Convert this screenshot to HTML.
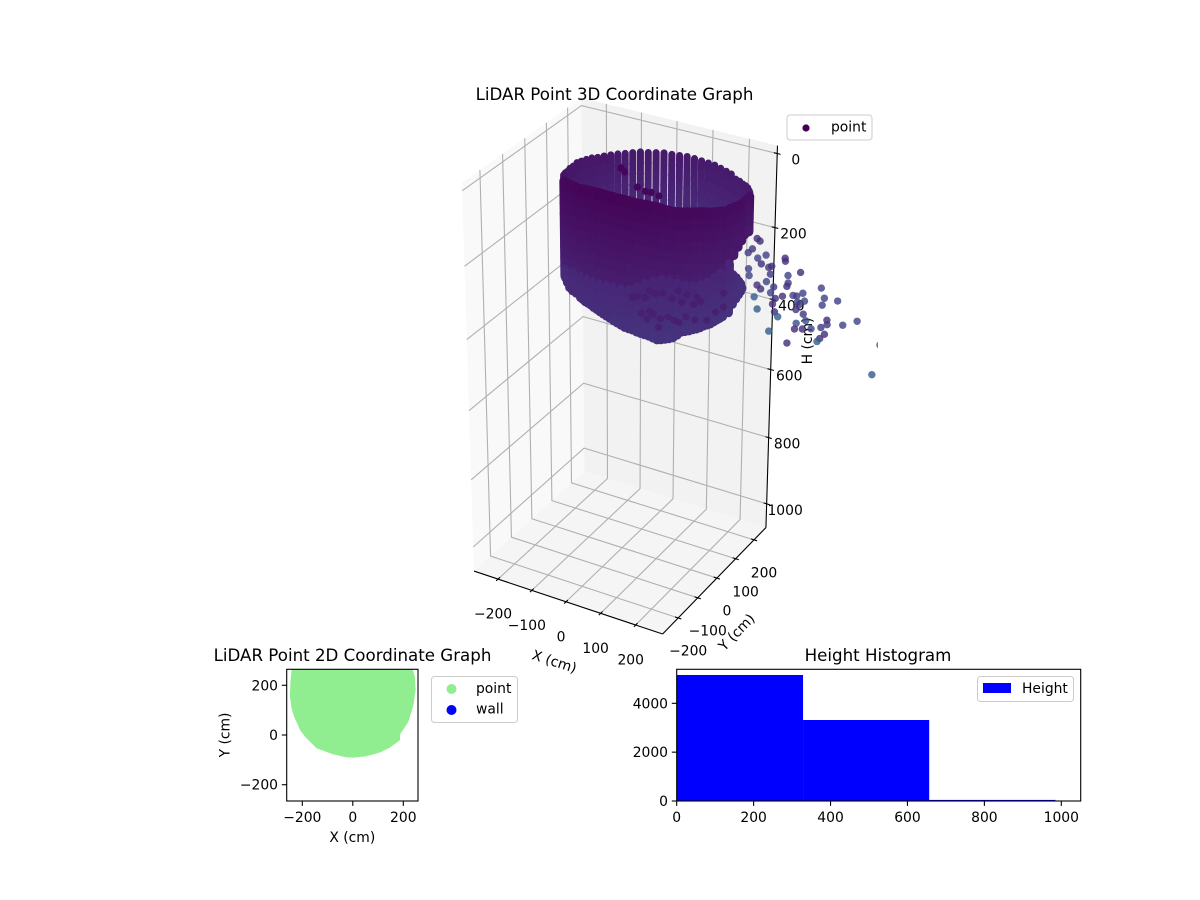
<!DOCTYPE html>
<html lang="en">
<head>
<meta charset="utf-8">
<title>LiDAR Point Graphs</title>
<style>
html,body{margin:0;padding:0;background:#fff;}
svg{display:block;font-family:"DejaVu Sans","Liberation Sans",sans-serif;}
</style>
</head>
<body>
<svg id="figure" xmlns="http://www.w3.org/2000/svg" width="1200" height="900" viewBox="0 0 1200 900">
  <defs>
    <clipPath id="clip3d"><rect x="322" y="90" width="556" height="560"/></clipPath>
    <clipPath id="clip2d"><rect x="286.7" y="669.3" width="131.3" height="131.7"/></clipPath>
  </defs>
  <g id="panes3d"></g>
  <g id="grid3d"></g>
  <g id="axes3d"></g>
  <g id="cloud3d" clip-path="url(#clip3d)"></g>
  <text x="614.5" y="100" font-size="16.67" text-anchor="middle">LiDAR Point 3D Coordinate Graph</text>
  <g>
    <rect x="787" y="115" width="85" height="25" rx="3" fill="#fff" fill-opacity=".8" stroke="#ccc" stroke-width="1"/>
    <circle cx="806" cy="128" r="3.6" fill="#440154"/>
    <text x="831" y="131.5" font-size="13.89">point</text>
  </g>

  <g id="plot2d"></g>
  <text x="352.5" y="661" font-size="16.67" text-anchor="middle">LiDAR Point 2D Coordinate Graph</text>
  <text x="352.3" y="842" font-size="13.89" text-anchor="middle">X (cm)</text>
  <text transform="translate(229.5,735) rotate(-90)" font-size="13.89" text-anchor="middle">Y (cm)</text>
  <g>
    <rect x="431.5" y="676.5" width="86" height="46" rx="3" fill="#fff" fill-opacity=".8" stroke="#ccc" stroke-width="1"/>
    <circle cx="451.5" cy="689" r="5" fill="#90ee90"/>
    <circle cx="451.5" cy="710" r="5" fill="#0000ff"/>
    <text x="476" y="693" font-size="13.89">point</text>
    <text x="476" y="713.5" font-size="13.89">wall</text>
  </g>

  <g id="hist"></g>
  <text x="878" y="661" font-size="16.67" text-anchor="middle">Height Histogram</text>
  <g>
    <rect x="977.5" y="676.5" width="96" height="25" rx="3" fill="#fff" fill-opacity=".8" stroke="#ccc" stroke-width="1"/>
    <rect x="983" y="683" width="28" height="10" fill="#0000ff"/>
    <text x="1022" y="693" font-size="13.89">Height</text>
  </g>
</svg>
<script>
/* ---------- 3D axis data ---------- */
const xTicks3d = [-200, -100, 0, 100, 200];
const yTicks3d = [-200, -100, 0, 100, 200];
const hTicks3d = [0, 200, 400, 600, 800, 1000];

/* Wall scan columns: azimuth (deg), radius (cm), top H, colour-break H, bottom H */
const columnAngle = [30,35,40,45,50,55,60,65,70,75,80,85,90,95,100,105,110,115,120,125,130,135,140,145,150,155,160,165,170,175,180,185,190,195,200,205,210,
  215,220,225,230,235,240,245,250,255,260,265,270,275,280,285,290,295,300,305,310,315,320,325,330,335,340,345,350,355,0,5,10,15,20,25,
  355,0,5,10,15,20,
  247.5,252.5,257.5,262.5,267.5,272.5,277.5,282.5,287.5,292.5,297.5,302.5,307.5,312.5,317.5,322.5,327.5,332.5,337.5,342.5];
const columnRadius = [227,227,227,227,227,227,227,227,227,227,227,227,227,227,227,227,227,227,227,227,227,227,227,227,227,227,227,227,227,227,227,227,227,227,227,227,227,
  227,227,227,227,227,227,227,227,227,227,227,227,227,227,227,227,227,227,227,227,227,227,227,227,227,227,227,227,227,227,227,227,227,227,227,
  215,215,215,215,215,215,
  227,227,227,227,227,227,227,227,227,227,227,227,227,227,227,227,227,227,227,227];
const columnTop = [131,136,138,142,147,148,151,145,145,144,142,142,141,139,137,137,136,133,133,132,129,129,128,126,124,122,120,115,112,109,105,106,103,102,96,91,83,
  89,81,74,67,62,57,54,48,44,41,40,40,41,42,45,47,50,54,62,68,72,75,78,83,89,94,99,100,103,107,111,114,118,125,132,
  264,301,318,337,354,376,
  51,46,42,40,40,40,41,43,46,48,52,58,65,70,73,76,80,86,91,96];
const columnBreak = [236,246,256,266,276,286,295,300,300,300,300,300,300,300,300,300,300,300,300,300,300,300,300,320,320,320,320,320,320,320,320,300,300,300,300,300,300,
  321,317,307,300,296,289,286,288,286,288,285,286,285,284,279,266,256,248,250,258,266,273,277,277,275,265,261,250,236,222,214,207,208,219,229,
  264,301,318,337,354,376,
  287,287,287,286,285,285,284,282,272,261,252,249,254,262,270,275,277,276,270,263];
const columnBottom = [236,246,256,266,276,286,295,300,300,300,300,300,300,300,300,300,300,300,300,300,300,300,300,320,320,320,320,320,320,320,320,340,350,355,355,350,348,
  351,346,348,352,351,348,351,354,355,360,366,372,380,388,392,399,405,415,414,411,398,398,397,394,394,390,388,382,236,222,214,207,208,219,229,
  398,383,377,375,376,377,
  352,354,358,363,369,376,384,390,396,402,410,415,413,405,398,397,396,394,392,389];
const backColumnCount = 37;
const wallCenterY = 168;

/* Returns seen through the open top of the wall */
const innerX = [-120,-109,-73,-50,-34,-12];
const innerY = [200,200,200,200,200,200];
const innerH = [107,115,148,154,153,157];

/* Returns scattered over the lower part of the wall */
const patchX = [76,93,112,64,43,138,156,179,165,198,216,207,28,54,77,87,70,107,128,145,158,177,202,235,258,279,279,102];
const patchY = [0,0,0,0,0,0,0,0,0,0,0,0,0,0,0,0,0,0,0,0,0,0,0,0,0,0,0,0];
const patchH = [303,306,299,325,327,308,282,287,311,308,295,285,335,372,361,365,383,372,361,366,368,347,349,341,312,293,255,397];

/* Outlying returns past the wall */
const outlierX = [313,321,301,290,338,316,326,292,346,354,294,351,389,390,431,398,341,316,326,361,399,396,487,439,413,423,353,385,366,496,444,425,491,531,359,429,422,365,318,309,374,442,449,424,505,506,584,547,464,490,420,441,351,500,488,481,401,646,629];
const outlierY = [100,100,100,100,100,100,100,100,100,100,100,100,100,100,100,100,100,100,100,100,100,100,100,100,100,100,100,100,100,100,100,100,100,100,100,100,100,100,100,100,100,100,100,100,100,100,100,100,100,100,100,100,100,100,100,100,100,100,100];
const outlierH = [145,150,176,189,183,197,210,232,214,209,250,231,178,186,205,222,254,270,278,263,242,252,232,259,272,271,281,282,293,257,279,287,277,255,310,294,308,330,335,304,341,315,331,345,314,326,295,316,349,338,362,356,387,354,369,379,406,342,428];
const outlierShade = [.13,.13,.16,.17,.2,.2,.14,.2,.17,.14,.2,.17,.14,.14,.14,.2,.21,.14,.14,.17,.17,.14,.2,.2,.2,.17,.21,.14,.14,.2,.21,.22,.2,.2,.14,.17,.17,.14,.3,.3,.3,.17,.25,.25,.14,.17,.21,.2,.21,.17,.14,.14,.3,.14,.14,.3,.14,.3,.3];

/* ---------- 2D chart data ---------- */
const xTicks2d = [-200, 0, 200];
const yTicks2d = [-200, 0, 200];
const outlineX = [-242,-247,-249,-243,-235,-209,-189,-143,-77,-24,2,51,104,147,187,187,220,240,249,246,237,180,-180];
const outlineY = [265,215,155,110,80,20,-7,-54,-78,-90,-91,-86,-72,-51,-20,2,53,120,181,234,265,420,420];

/* ---------- Histogram data ---------- */
const binEdges = [0, 328.5, 656.5, 984.7];
const binCounts = [5160, 3317, 45];
const histXTicks = [0, 200, 400, 600, 800, 1000];
const histYTicks = [0, 2000, 4000];

/* ---------- Palette anchors ---------- */
const viridisAnchors = [[68,1,84],[72,36,117],[65,68,135],[53,95,141],[42,120,142]];

const SVGNS = 'http://www.w3.org/2000/svg';
function make(tag, attrs, parent, text) {
  const el = document.createElementNS(SVGNS, tag);
  for (const k in attrs) el.setAttribute(k, attrs[k]);
  if (text !== undefined) el.textContent = text;
  parent.appendChild(el);
  return el;
}
function viridis(v) {
  const t = Math.max(0, Math.min(.3999, v)) * 10;
  const i = Math.floor(t), f = t - i;
  const a = viridisAnchors[i], b = viridisAnchors[i + 1];
  return 'rgb(' + [0,1,2].map(n => Math.round(a[n] + (b[n] - a[n]) * f)).join(',') + ')';
}
function fmt(v) { return String(v).replace('-', '\u2212'); }

/* ---------- 3D projection (perspective, elev 30, azim -60) ---------- */
const X_MIN = -272, X_MAX = 276, Y_MIN = -278, Y_MAX = 266, H_TOP = -21, H_BOTTOM = 1073;
function project(x, y, h) {
  const dx = ((x - X_MIN) / (X_MAX - X_MIN) - .5) * .778;
  const dy = ((y - Y_MIN) / (Y_MAX - Y_MIN) - .5) * .778;
  const dz = ((H_BOTTOM - h) / (H_BOTTOM - H_TOP) - .5) * 1.556;
  const vx = .866 * dx + .5 * dy;
  const vy = -.25 * dx + .433 * dy + .866 * dz;
  const d = 10 - (.433 * dx - .75 * dy + .5 * dz);
  return [621.7 + 2853.5 * vx / d, 364 - 2853.5 * vy / d];
}
function poly3d(points) {
  return points.map(p => project(p[0], p[1], p[2]).map(n => n.toFixed(2)).join(',')).join(' ');
}

/* panes */
const panes = document.getElementById('panes3d');
const paneLeft = make('polygon', {points: poly3d([[X_MIN,Y_MIN,H_BOTTOM],[X_MIN,Y_MAX,H_BOTTOM],[X_MIN,Y_MAX,H_TOP],[X_MIN,Y_MIN,H_TOP]]), fill:'#f9f9f9'}, panes);


const paneBack = make('polygon', {points: poly3d([[X_MIN,Y_MAX,H_BOTTOM],[X_MAX,Y_MAX,H_BOTTOM],[X_MAX,Y_MAX,H_TOP],[X_MIN,Y_MAX,H_TOP]]), fill:'#f2f2f2'}, panes);


const paneFloor = make('polygon', {points: poly3d([[X_MIN,Y_MIN,H_BOTTOM],[X_MAX,Y_MIN,H_BOTTOM],[X_MAX,Y_MAX,H_BOTTOM],[X_MIN,Y_MAX,H_BOTTOM]]), fill:'#f5f5f5'}, panes);



/* gridlines */
const grid = document.getElementById('grid3d');
const gridStyle = {fill:'none', stroke:'#b0b0b0', 'stroke-width':'1.1'};
xTicks3d.forEach(v => {
  const g = make('polyline', Object.assign({points: poly3d([[v,Y_MIN,H_BOTTOM],[v,Y_MAX,H_BOTTOM],[v,Y_MAX,H_TOP]])}, gridStyle), grid);
  
  
});
yTicks3d.forEach(v => {
  const g = make('polyline', Object.assign({points: poly3d([[X_MAX,v,H_BOTTOM],[X_MIN,v,H_BOTTOM],[X_MIN,v,H_TOP]])}, gridStyle), grid);
  
  
});
hTicks3d.forEach(v => {
  const g = make('polyline', Object.assign({points: poly3d([[X_MIN,Y_MIN,v],[X_MIN,Y_MAX,v],[X_MAX,Y_MAX,v]])}, gridStyle), grid);
  
  
});

/* axis lines, ticks, labels */
const axes = document.getElementById('axes3d');
const axisStyle = {stroke:'#000', 'stroke-width':'1.1', fill:'none'};
const xLine = make('polyline', Object.assign({points: poly3d([[X_MIN,Y_MIN,H_BOTTOM],[X_MAX,Y_MIN,H_BOTTOM]])}, axisStyle), axes);


const yLine = make('polyline', Object.assign({points: poly3d([[X_MAX,Y_MIN,H_BOTTOM],[X_MAX,Y_MAX,H_BOTTOM]])}, axisStyle), axes);


const hLine = make('polyline', Object.assign({points: poly3d([[X_MAX,Y_MAX,H_BOTTOM],[X_MAX,Y_MAX,H_TOP]])}, axisStyle), axes);



xTicks3d.forEach(v => {
  const t = make('polyline', Object.assign({points: poly3d([[v,Y_MIN-9,H_BOTTOM],[v,Y_MIN+9,H_BOTTOM]])}, axisStyle), axes);
  
  
  const p = project(v, Y_MIN, H_BOTTOM);
  const l = make('text', {x:p[0]-5, y:p[1]+39.5, 'font-size':'13.89', 'text-anchor':'middle'}, axes, fmt(v));
  
  
});
yTicks3d.forEach(v => {
  const t = make('polyline', Object.assign({points: poly3d([[X_MAX-9,v,H_BOTTOM],[X_MAX+9,v,H_BOTTOM]])}, axisStyle), axes);
  
  
  const p = project(X_MAX, v, H_BOTTOM);
  const l = make('text', {x:p[0]+10, y:p[1]+37.5, 'font-size':'13.89', 'text-anchor':'middle'}, axes, fmt(v));
  
  
});
hTicks3d.forEach(v => {
  const t = make('polyline', Object.assign({points: poly3d([[X_MAX-9,Y_MAX,v],[X_MAX+9,Y_MAX,v]])}, axisStyle), axes);
  
  
  const p = project(X_MAX, Y_MAX, v);
  const l = make('text', {x:p[0]+18.5, y:p[1]+11, 'font-size':'13.89', 'text-anchor':'middle'}, axes, fmt(v));
  
  
});
const xTitle = make('text', {transform:'translate(553,666) rotate(18)', 'font-size':'13.89', 'text-anchor':'middle'}, axes, 'X (cm)');


const yTitle = make('text', {transform:'translate(740,635.5) rotate(-46)', 'font-size':'13.89', 'text-anchor':'middle'}, axes, 'Y (cm)');


const hTitle = make('text', {transform:'translate(812,341) rotate(-90)', 'font-size':'13.89', 'text-anchor':'middle'}, axes, 'H (cm)');



/* point cloud */
const cloud = document.getElementById('cloud3d');
function drawColumn(idx) {
  const rad = columnAngle[idx] * Math.PI / 180;
  const r = columnRadius[idx];
  const x = r * Math.cos(rad);
  const y = wallCenterY + r * Math.sin(rad);
  const isBack = idx < backColumnCount;
  const group = make('g', {'stroke-linecap':'round', 'stroke-width': isBack ? '7' : '9'}, cloud);
  
  
  const top = columnTop[idx], brk = columnBreak[idx], bottom = columnBottom[idx];
  let h = top;
  do {
    const next = Math.min(h + 30, h < brk ? brk : bottom);
    const value = h < brk ? h / 3300 + (isBack ? .03 : 0) : (h + 80) / 3300;
    const a = project(x, y, h), b = project(x, y, next);
    make('line', {x1:a[0].toFixed(2), y1:a[1].toFixed(2), x2:b[0].toFixed(2), y2:b[1].toFixed(2), stroke:viridis(value)}, group);
    h = next;
  } while (h < bottom);
}
for (let i = 0; i < backColumnCount; i++) drawColumn(i);
innerX.forEach((v, i) => {
  const p = project(v, innerY[i], innerH[i]);
  const c = make('circle', {cx:p[0].toFixed(2), cy:p[1].toFixed(2), r:'3.6', fill:viridis(innerH[i] / 9000)}, cloud);
  
  
});
for (let i = backColumnCount; i < columnAngle.length; i++) drawColumn(i);
patchX.forEach((v, i) => {
  const p = project(v, patchY[i], patchH[i]);
  const c = make('circle', {cx:p[0].toFixed(2), cy:p[1].toFixed(2), r:'3.6', fill:viridis(.08), 'fill-opacity':'.8'}, cloud);
  
  
});
outlierX.forEach((v, i) => {
  const p = project(v, outlierY[i], outlierH[i]);
  const c = make('circle', {cx:p[0].toFixed(2), cy:p[1].toFixed(2), r:'3.7', fill:viridis(outlierShade[i]), 'fill-opacity':'.82'}, cloud);
  
  
});

/* ---------- 2D chart ---------- */
const plot2d = document.getElementById('plot2d');
const sx2d = v => 352.8 + v * .2525;
const sy2d = v => 735 - v * .2486;
const blob = make('polygon', {points: outlineX.map((v, i) => sx2d(v).toFixed(2) + ',' + sy2d(outlineY[i]).toFixed(2)).join(' '), fill:'#90ee90', 'clip-path':'url(#clip2d)'}, plot2d);


const frame2d = make('rect', {x:286.7, y:669.3, width:131.3, height:131.7, fill:'none', stroke:'#000', 'stroke-width':'1.1'}, plot2d);


xTicks2d.forEach(v => {
  const t = make('line', {x1:sx2d(v), x2:sx2d(v), y1:801, y2:805.9, stroke:'#000', 'stroke-width':'1.1'}, plot2d);
  
  
  const l = make('text', {x:sx2d(v), y:822, 'font-size':'13.89', 'text-anchor':'middle'}, plot2d, fmt(v));
  
  
});
yTicks2d.forEach(v => {
  const t = make('line', {x1:281.8, x2:286.7, y1:sy2d(v), y2:sy2d(v), stroke:'#000', 'stroke-width':'1.1'}, plot2d);
  
  
  const l = make('text', {x:278, y:sy2d(v) + 5, 'font-size':'13.89', 'text-anchor':'end'}, plot2d, fmt(v));
  
  
});

/* ---------- Histogram ---------- */
const hist = document.getElementById('hist');
const sxH = v => 676.7 + v * .3846;
const syH = v => 801 - v * .02442;
binCounts.forEach((count, i) => {
  const left = sxH(binEdges[i]), right = sxH(binEdges[i + 1]);
  const b = make('rect', {x:left.toFixed(2), y:syH(count).toFixed(2), width:(right - left).toFixed(2), height:(801 - syH(count)).toFixed(2), fill:'#0000ff'}, hist);
  
  
});
const frameH = make('rect', {x:676.7, y:669.3, width:404, height:131.7, fill:'none', stroke:'#000', 'stroke-width':'1.1'}, hist);


histXTicks.forEach(v => {
  const t = make('line', {x1:sxH(v), x2:sxH(v), y1:801, y2:805.9, stroke:'#000', 'stroke-width':'1.1'}, hist);
  
  
  const l = make('text', {x:sxH(v), y:822, 'font-size':'13.89', 'text-anchor':'middle'}, hist, String(v));
  
  
});
histYTicks.forEach(v => {
  const t = make('line', {x1:671.8, x2:676.7, y1:syH(v), y2:syH(v), stroke:'#000', 'stroke-width':'1.1'}, hist);
  
  
  const l = make('text', {x:668, y:syH(v) + 5, 'font-size':'13.89', 'text-anchor':'end'}, hist, String(v));
  
  
});
</script>
</body>
</html>
